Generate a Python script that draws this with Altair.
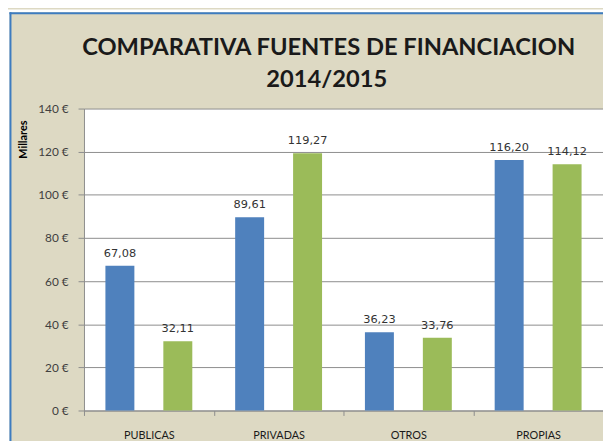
import altair as alt
import pandas as pd

title_lines = ["COMPARATIVA FUENTES DE FINANCIACION", "2014/2015"]
categories = ["PUBLICAS", "PRIVADAS", "OTROS", "PROPIAS"]
series = ["2014", "2015"]
values_2014 = [67.08, 89.61, 36.23, 116.20]
values_2015 = [32.11, 119.27, 33.76, 114.12]
y_ticks = [0, 20, 40, 60, 80, 100, 120, 140]

BLUE = "#4F81BD"
GREEN = "#9BBB59"
BEIGE = "#DDD9C3"
FRAME = "#3D7CC0"
GRID = "#8C8C8C"

rows = []
for cat, a, b in zip(categories, values_2014, values_2015):
    for s, v in ((series[0], a), (series[1], b)):
        rows.append({"fuente": cat, "serie": s, "valor": v,
                     "etiqueta": f"{v:.2f}".replace(".", ",")})
df = pd.DataFrame(rows)

W, H = 526, 306

x_enc = alt.X("fuente:N", sort=categories,
              scale=alt.Scale(paddingInner=0, paddingOuter=0),
              axis=alt.Axis(title=None, labelAngle=0, tickBand="extent",
                            tickSize=5, tickColor=GRID, domainColor=GRID,
                            labelFont="Lato", labelFontSize=11,
                            labelColor="#1a1a1a", labelPadding=14, grid=False))
xo_enc = alt.XOffset("serie:N", sort=series,
                     scale=alt.Scale(paddingInner=0.5, paddingOuter=0.37))
y_enc = alt.Y("valor:Q", scale=alt.Scale(domain=[0, 140], nice=False),
              axis=alt.Axis(values=y_ticks, labelExpr="datum.value + ' €'",
                            title="Millares", titleFont="Lato", titleFontSize=11,
                            titleFontWeight="bold", titleColor="#000000",
                            titleAngle=270, titleX=-61, titleY=31,
                            titleAlign="center", titleBaseline="middle",
                            grid=True, gridColor=GRID, tickColor=GRID,
                            tickSize=6, domainColor=GRID,
                            labelFont="Lato", labelFontSize=12,
                            labelColor="#404040", labelPadding=10))

base = alt.Chart(df)
bars = base.mark_bar().encode(
    x=x_enc, xOffset=xo_enc, y=y_enc,
    color=alt.Color("serie:N", scale=alt.Scale(domain=series, range=[BLUE, GREEN]),
                    legend=None),
)
labels = base.mark_text(baseline="alphabetic", dy=-9, font="DejaVu Sans",
                        fontSize=11.5, color="#333333").encode(
    x=x_enc, xOffset=xo_enc, y=y_enc, text="etiqueta:N")

frame_data = alt.Data(values=[{"k": 0}])
top_white = alt.Chart(frame_data).mark_rule(color="white", strokeWidth=3).encode(
    x=alt.value(-80), x2=alt.value(W + 10), y=alt.value(-99))
left_white = alt.Chart(frame_data).mark_rule(color="white", strokeWidth=3).encode(
    x=alt.value(-77), y=alt.value(-100), y2=alt.value(H + 40))
top_rule = alt.Chart(frame_data).mark_rule(color=FRAME, strokeWidth=2).encode(
    x=alt.value(-75.5), x2=alt.value(W + 10), y=alt.value(-96.5))
left_rule = alt.Chart(frame_data).mark_rule(color=FRAME, strokeWidth=2).encode(
    x=alt.value(-74.5), y=alt.value(-97.5), y2=alt.value(H + 40))

title_style = dict(font="Lato", fontSize=24, fontWeight="bold", color="#1a1a1a",
                   align="center", baseline="alphabetic")
title1 = alt.Chart(frame_data).mark_text(**title_style).encode(
    text=alt.value(title_lines[0]), x=alt.value(248), y=alt.value(-54))
title2 = alt.Chart(frame_data).mark_text(**title_style).encode(
    text=alt.value(title_lines[1]), x=alt.value(246), y=alt.value(-22))

chart = alt.layer(bars, labels, top_white, left_white, top_rule, left_rule,
                  title1, title2).properties(
    width=W, height=H,
    autosize="none",
    padding={"left": 77, "top": 99, "right": 0, "bottom": 28},
    background=BEIGE,
).configure_view(fill="white", stroke="transparent")

chart.save("out.html", embed_options={"renderer": "svg", "actions": False})
